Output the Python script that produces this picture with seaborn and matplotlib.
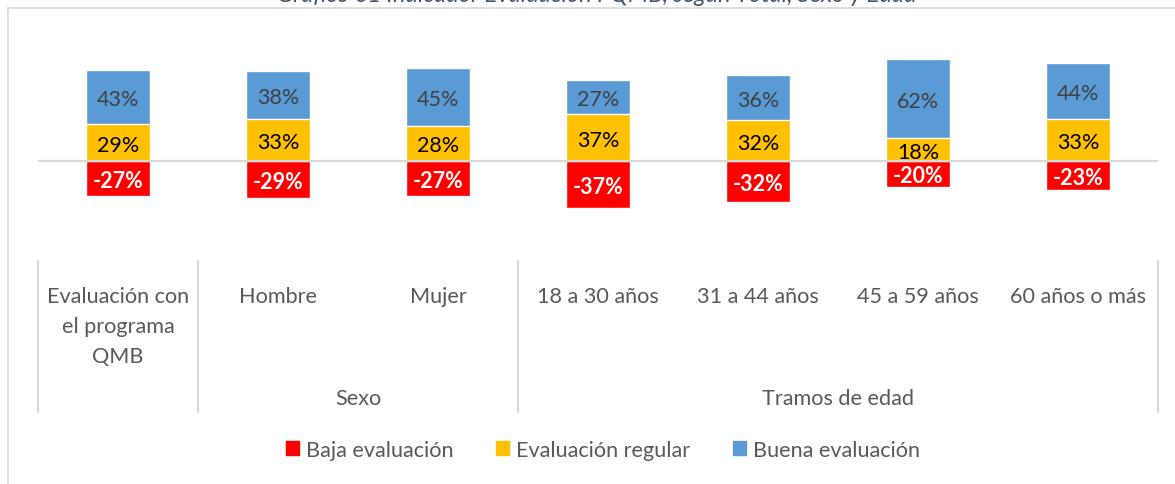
import matplotlib
matplotlib.use("Agg")
import matplotlib.pyplot as plt
import matplotlib.transforms as mtransforms
from matplotlib.patches import Patch
from matplotlib.lines import Line2D
import seaborn as sns
import numpy as np

# Categories, grouping and values (percent)
categorias = ["Evaluación con\nel programa\nQMB", "Hombre", "Mujer",
              "18 a 30 años", "31 a 44 años", "45 a 59 años", "60 años o más"]
grupos = ["", "Sexo", "Tramos de edad"]
tam_grupos = [1, 2, 4]
baja = [-27, -29, -27, -37, -32, -20, -23]
regular = [29, 33, 28, 37, 32, 18, 33]
buena = [43, 38, 45, 27, 36, 62, 44]
series = ["Baja evaluación", "Evaluación regular", "Buena evaluación"]
titulo = "Gráfico 61 Indicador Evaluación PQMB, según Total, Sexo y Edad"

ROJO, AMARILLO, AZUL = "#FF0000", "#FFC000", "#5B9BD5"
GRIS_TXT = "#595959"
GRIS_LIN = "#D9D9D9"

sns.set_theme(style="white")
plt.rcParams["font.family"] = ["Lato", "DejaVu Sans"]

W, H = 1175, 485
fig = plt.figure(figsize=(W / 100, H / 100), dpi=100)
ax = fig.add_axes([38 / W, 1 - 262 / H, 1120 / W, 227 / H])

x = np.arange(len(categorias))
tope = [r + b for r, b in zip(regular, buena)]

# stacked positives: full stack first, regular on top of it; negatives below zero
sns.barplot(x=x, y=tope, color=AZUL, saturation=1, width=0.4, ax=ax, native_scale=True)
sns.barplot(x=x, y=regular, color=AMARILLO, saturation=1, width=0.4, ax=ax, native_scale=True)
sns.barplot(x=x, y=baja, color=ROJO, saturation=1, width=0.4, ax=ax, native_scale=True)

ax.set_xlim(-0.5, len(categorias) - 0.5)
ax.set_ylim(-78.5, 100)
ax.axhline(0, color=GRIS_LIN, lw=1.6, zorder=5)

fs_lab = 15.5
for i in x:
    ax.text(i, regular[i] + buena[i] / 2, f"{buena[i]}%", ha="center",
            va="center_baseline", fontsize=fs_lab, color="#404040", zorder=6)
    ax.text(i, regular[i] / 2, f"{regular[i]}%", ha="center",
            va="center_baseline", fontsize=fs_lab, color="black", zorder=6)
    ax.text(i, baja[i] / 2, f"{baja[i]}%", ha="center", va="center_baseline",
            fontsize=fs_lab, color="white", fontweight="bold", zorder=6)

for s in ax.spines.values():
    s.set_visible(False)
ax.set_yticks([])
ax.set_xticks(x)
ax.set_xticklabels(categorias, fontsize=15.6, color=GRIS_TXT, linespacing=1.62)
ax.tick_params(axis="x", length=0, pad=18)
ax.set_xlabel("")
ax.set_ylabel("")

# multi-level category axis: separators and group labels
trans = mtransforms.blended_transform_factory(ax.transData, ax.transAxes)
y_sep = -(413 - 262) / 227
bordes = np.concatenate([[0], np.cumsum(tam_grupos)]) - 0.5
for xs in bordes:
    ax.add_line(Line2D([xs, xs], [0, y_sep], transform=trans, color=GRIS_LIN,
                       lw=1.5, clip_on=False))
y_grp = -(399 - 262) / 227
for g, a, b in zip(grupos, bordes[:-1], bordes[1:]):
    if g:
        ax.text((a + b) / 2, y_grp, g, transform=trans, ha="center", va="center",
                fontsize=15.6, color=GRIS_TXT)

# legend
handles = [Patch(color=c) for c in (ROJO, AMARILLO, AZUL)]
fig.legend(handles, series, loc="center", bbox_to_anchor=(603 / W, 1 - 451 / H),
           ncol=3, frameon=False, fontsize=15.6, labelcolor=GRIS_TXT,
           handlelength=0.6, handleheight=0.6, handletextpad=0.3, columnspacing=2.0)

# chart frame edges and title
fig.add_artist(Line2D([8 / W, 1], [1 - 9 / H, 1 - 9 / H], transform=fig.transFigure,
                      color=GRIS_LIN, lw=1.2))
fig.add_artist(Line2D([8 / W, 8 / W], [0, 1 - 9 / H], transform=fig.transFigure,
                      color=GRIS_LIN, lw=1.2))
fig.text(597 / W, 1 + 5 / H, titulo, ha="center", va="center", fontsize=17,
         style="italic", color="#44546A")

fig.savefig("out.png", dpi=100)
